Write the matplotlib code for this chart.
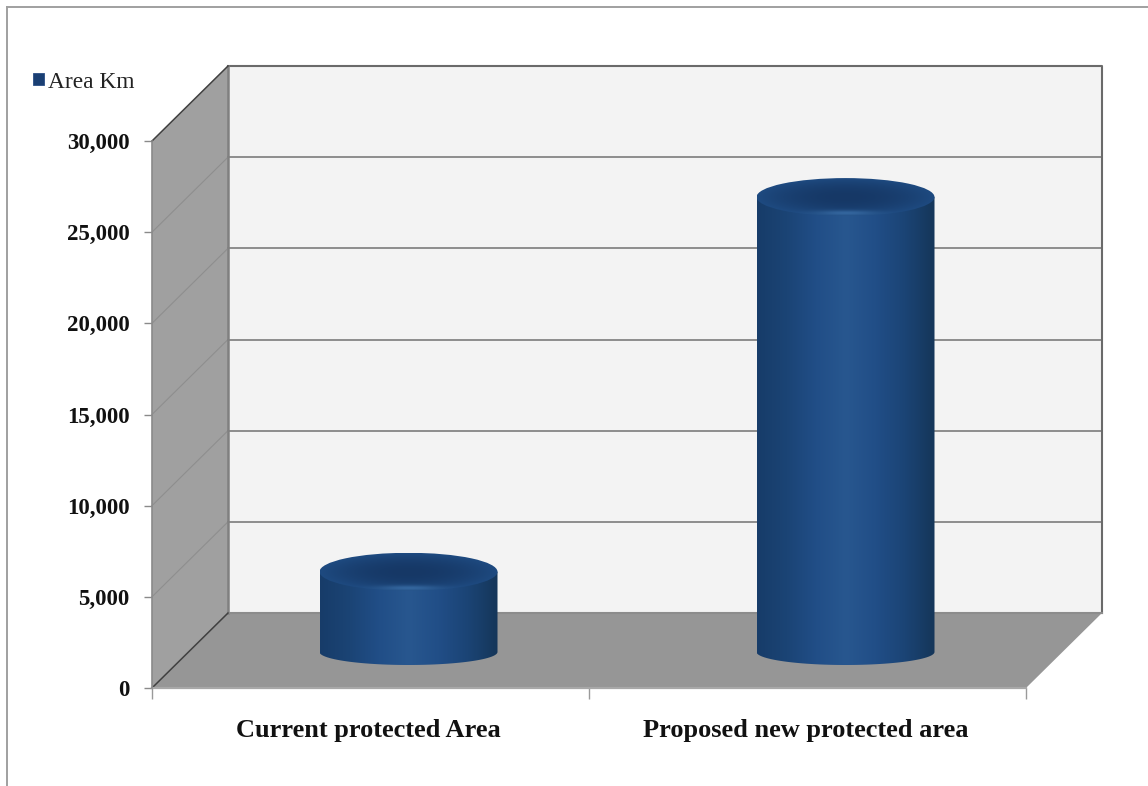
import numpy as np
import matplotlib
matplotlib.use("Agg")
import matplotlib.pyplot as plt
from matplotlib.patches import Ellipse, Polygon, PathPatch, Rectangle
from matplotlib.path import Path
from matplotlib.colors import LinearSegmentedColormap
from matplotlib.ticker import FuncFormatter

categories = ["Current protected Area", "Proposed new protected area"]
area_km = [4400, 24950]
y_ticks = [0, 5000, 10000, 15000, 20000, 25000, 30000]
series_name = "Area Km"

W, H = 1148, 786
plt.rcParams["font.family"] = ["Liberation Serif", "DejaVu Serif"]
plt.rcParams["font.weight"] = "bold"

fig = plt.figure(figsize=(W / 100, H / 100), dpi=100)

# front plane of the fake 3D box, in pixels
left, right, bottom, top = 152, 1026, 688, 141
ax = fig.add_axes([left / W, 1 - bottom / H, (right - left) / W, (bottom - top) / H])
ax.patch.set_visible(False)

# depth offset of the back wall, in data units
dx = 76 / (right - left) * 2
dy = 75 / (bottom - top) * 30000
ymax = y_ticks[-1]

ax.add_patch(Polygon([(dx, dy), (2 + dx, dy), (2 + dx, ymax + dy), (dx, ymax + dy)],
                     fc="#f3f3f3", ec="none", clip_on=False, zorder=1))
ax.add_patch(Polygon([(0, 0), (dx, dy), (dx, ymax + dy), (0, ymax)],
                     fc="#a0a0a0", ec="none", clip_on=False, zorder=1))
ax.add_patch(Polygon([(0, 0), (2, 0), (2 + dx, dy), (dx, dy)],
                     fc="#969696", ec="none", clip_on=False, zorder=1))

# grid lines run along the side wall and across the back wall
for t in y_ticks[1:-1]:
    ax.plot([dx, 2 + dx], [t + dy, t + dy], color="#858585", lw=1.3, clip_on=False, zorder=2)
    ax.plot([0, dx], [t, t + dy], color="#8e8e8e", lw=0.8, clip_on=False, zorder=2)

# box edges
ax.plot([dx, 2 + dx, 2 + dx], [ymax + dy, ymax + dy, dy], color="#6a6a6a", lw=1.5, clip_on=False, zorder=2)
ax.plot([dx, dx], [dy, ymax + dy], color="#808080", lw=1.8, clip_on=False, zorder=2)
ax.plot([dx, 2 + dx], [dy, dy], color="#8c8c8c", lw=1.5, clip_on=False, zorder=2)
ax.plot([0, dx], [ymax, ymax + dy], color="#404040", lw=1.1, clip_on=False, zorder=2)
ax.plot([0, dx], [0, dy], color="#404040", lw=1.1, clip_on=False, zorder=2)
ax.plot([0, 2], [0, 0], color="#a8a8a8", lw=1.6, clip_on=False, zorder=2)
ax.plot([0, 0], [0, ymax], color="#8a8a8a", lw=1.2, clip_on=False, zorder=2)

side_cmap = LinearSegmentedColormap.from_list(
    "side", ["#173c69", "#1b4475", "#214e87", "#28578f", "#214e87", "#1b4475", "#153659"])

bar_w = 178 / (right - left) * 2
base_y = 36 / (bottom - top) * 30000
cap_h = 38 / (bottom - top) * 30000
foot_h = 26 / (bottom - top) * 30000
shade = np.linspace(0, 1, 256)

# cap shading: dark in the middle, lighter to the rim, with a soft glint on the front lip
u, v = np.meshgrid(np.linspace(-1, 1, 300), np.linspace(-1, 1, 120))
rim = np.clip(u ** 2 + v ** 2, 0, 1)[..., None]
glint = np.exp(-(u / 0.35) ** 2 - ((v - 0.85) / 0.14) ** 2)[..., None]
cap_rgb = (np.array([0x16, 0x38, 0x66]) * (1 - rim) + np.array([0x1e, 0x4a, 0x80]) * rim) / 255
cap_rgb = cap_rgb + glint * (np.array([0x34, 0x66, 0x9e]) / 255 - cap_rgb)

for i, value in enumerate(area_km):
    cx = i + 0.5 + dx / 2
    x0, x1 = cx - bar_w / 2, cx + bar_w / 2
    y0, y1 = base_y, base_y + value

    # body: rectangle with a rounded foot, filled by a horizontal gradient
    t = np.linspace(np.pi, 2 * np.pi, 60)
    foot = np.column_stack([cx + bar_w / 2 * np.cos(t), y0 + foot_h / 2 * np.sin(t)])
    outline = np.vstack([[(x0, y1)], foot, [(x1, y1)], [(x0, y1)]])
    body = PathPatch(Path(outline), fc="none", ec="none")
    ax.add_patch(body)
    im = ax.imshow(shade[None, :], cmap=side_cmap, aspect="auto", zorder=3,
                   extent=[x0, x1, y0 - foot_h, y1])
    im.set_clip_path(body)

    cap = Ellipse((cx, y1), bar_w, cap_h, fc="none", ec="none")
    ax.add_patch(cap)
    im = ax.imshow(cap_rgb, aspect="auto", zorder=4, origin="upper",
                   extent=[x0, x1, y1 - cap_h / 2, y1 + cap_h / 2])
    im.set_clip_path(cap)

ax.set_xlim(0, 2)
ax.set_ylim(0, 30000)

for s in ax.spines.values():
    s.set_visible(False)
ax.set_yticks(y_ticks)
ax.yaxis.set_major_formatter(FuncFormatter(lambda v, _: f"{int(v):,}"))
ax.tick_params(axis="y", length=6, width=1, color="#8a8a8a", labelsize=16.5, labelcolor="#111111", pad=10)
ax.set_xticks([0, 1, 2], labels=["", "", ""])
ax.tick_params(axis="x", which="major", length=8, width=1, color="#9a9a9a")
ax.set_xticks([0.495, 1.495], labels=categories, minor=True)
ax.tick_params(axis="x", which="minor", length=0, pad=22.5, labelsize=19, labelcolor="#111111")

# legend swatch and label
fig.patches.append(Rectangle((33 / W, 1 - 85 / H), 11 / W, 12 / H, transform=fig.transFigure,
                             fc="#1a3f73", ec="#2a4f86", lw=0.6))
fig.text(48 / W, 1 - 82.5 / H, series_name, fontsize=16.8, va="center", ha="left",
         color="#222222", fontweight="normal")

# outer chart frame, open on the right and at the bottom
frame = dict(color="#a0a0a0", lw=1.4, transform=fig.transFigure)
fig.add_artist(plt.Line2D([7 / W, 7 / W], [1 - 7 / H, 0], **frame))
fig.add_artist(plt.Line2D([7 / W, 1], [1 - 7 / H, 1 - 7 / H], **frame))

fig.savefig("out.png", dpi=100)
